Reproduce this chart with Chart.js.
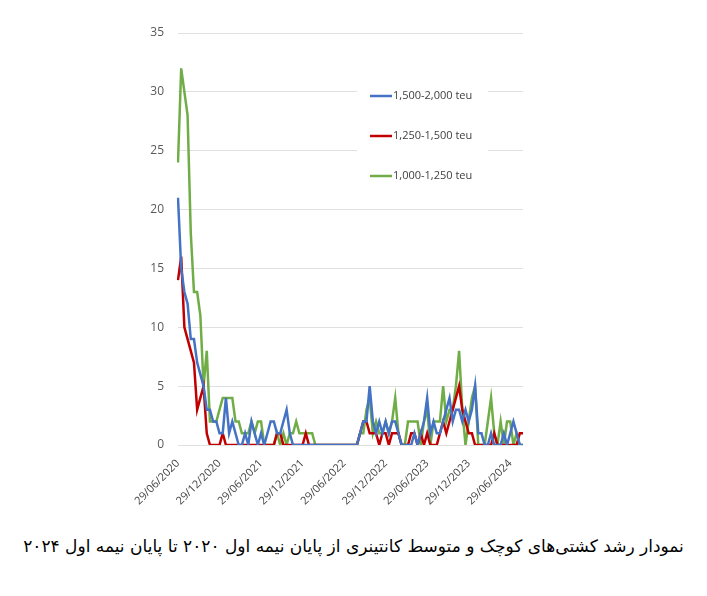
<!DOCTYPE html>
<html>
<head>
<meta charset="utf-8">
<script src="https://cdn.jsdelivr.net/npm/chart.js@4.4.1/dist/chart.umd.min.js"></script>
<style>
  body { margin: 0; background: #fff; width: 707px; height: 596px; position: relative; overflow: hidden; }
  #wrap { position: absolute; left: 0; top: 0; width: 560px; height: 515px; }
  #caption { position: absolute; left: 0; top: 536px; width: 707px; text-align: center; direction: rtl;
             white-space: nowrap; font-family: "DejaVu Sans"; font-size: 17px; color: #000; }
</style>
</head>
<body>
<div id="wrap"><canvas id="myChart"></canvas></div>
<div id="caption">نمودار رشد کشتی‌های کوچک و متوسط کانتینری از پایان نیمه اول ۲۰۲۰ تا پایان نیمه اول ۲۰۲۴</div>
<script>
// x tick labels, one every 13 points (biweekly data)
const tickLabels = ['29/06/2020', '29/12/2020', '29/06/2021', '29/12/2021', '29/06/2022',
                    '29/12/2022', '29/06/2023', '29/12/2023', '29/06/2024'];

const seriesNames = ['1,500-2,000 teu', '1,250-1,500 teu', '1,000-1,250 teu'];

const teu1500 = [
  21, 15, 13, 12, 9, 9, 7, 6, 5, 3,
  3, 2, 2, 1, 1, 4, 1, 2, 1, 0,
  0, 1, 0, 2, 1, 0, 1, 0, 1, 2,
  2, 1, 1, 2, 3, 1, 0, 0, 0, 0,
  0, 0, 0, 0, 0, 0, 0, 0, 0, 0,
  0, 0, 0, 0, 0, 0,
  0, 1, 2, 2, 5, 2, 1, 2, 1, 2,
  1, 2, 2, 1, 0, 0, 0, 0, 1, 0,
  1, 2, 4, 1, 2, 1, 1, 2, 3, 4,
  2, 3, 3, 2, 3, 2, 3, 5, 1, 1,
  0, 0, 1, 0, 0, 0, 1, 0, 1, 2,
  1, 0, 0
];

const teu1250 = [
  14, 16, 10, 9, 8, 7, 3, 4, 5, 1,
  0, 0, 0, 0, 1, 0, 0, 0, 0, 0,
  0, 0, 0, 0, 0, 0, 0, 0, 0, 0,
  0, 1, 1, 0, 0, 0, 0, 0, 0, 0,
  1, 0, 0, 0, 0, 0, 0, 0, 0, 0,
  0, 0, 0, 0, 0, 0,
  0, 1, 2, 2, 1, 1, 1, 0, 1, 1,
  0, 1, 1, 1, 0, 0, 0, 1, 1, 0,
  1, 0, 1, 0, 0, 0, 1, 2, 1, 2,
  3, 4, 5, 3, 2, 1, 1, 0, 0, 0,
  0, 0, 0, 1, 0, 0, 0, 0, 0, 0,
  0, 1, 1
];

const teu1000 = [
  24, 32, 30, 28, 18, 13, 13, 11, 5, 8,
  2, 2, 2, 3, 4, 4, 4, 4, 2, 2,
  1, 1, 1, 2, 1, 2, 2, 0, 0, 0,
  0, 1, 0, 1, 0, 1, 1, 2, 1, 1,
  1, 1, 1, 0, 0, 0, 0, 0, 0, 0,
  0, 0, 0, 0, 0, 0,
  0, 1, 1, 3, 4, 1, 2, 1, 1, 2,
  1, 2, 4, 1, 0, 0, 2, 2, 2, 2,
  0, 2, 3, 0, 2, 2, 2, 5, 2, 3,
  3, 5, 8, 3, 0, 2, 4, 5, 0, 0,
  0, 2, 4, 1, 0, 2, 0, 2, 2, 0,
  1, 0, 0
];

const colors = ['#4472C4', '#C00000', '#70AD47'];

// biweekly dates from 29/06/2020
const categories = [];
for (let i = 0; i < teu1500.length; i++) {
  const d = new Date(2020, 5, 29 + 14 * i);
  categories.push(d.toLocaleDateString('en-GB'));
}

// legend drawn inside the plot, like the original
const innerLegend = {
  id: 'innerLegend',
  afterDraw(chart) {
    const ctx = chart.ctx;
    ctx.save();
    ctx.fillStyle = '#fff';
    ctx.fillRect(357, 80, 131, 112);
    ctx.font = '11px "Open Sans"';
    ctx.textBaseline = 'middle';
    chart.data.datasets.forEach((ds, i) => {
      const y = 96 + i * 40;
      ctx.strokeStyle = ds.borderColor;
      ctx.lineWidth = 2.5;
      ctx.beginPath();
      ctx.moveTo(370, y);
      ctx.lineTo(392, y);
      ctx.stroke();
      ctx.fillStyle = '#404040';
      ctx.fillText(ds.label, 393, y);
    });
    ctx.restore();
  }
};

const ctx = document.getElementById('myChart').getContext('2d');

const myChart = new Chart(ctx, {
  type: 'line',
  data: {
    labels: categories,
    datasets: [teu1500, teu1250, teu1000].map((vals, i) => ({
      label: seriesNames[i],
      data: vals,
      borderColor: colors[i],
      backgroundColor: colors[i],
      borderWidth: 2.5,
      pointRadius: 0,
      tension: 0
    }))
  },
  options: {
    responsive: true,
    maintainAspectRatio: false,
    animation: false,
    layout: { padding: { top: 33, right: 37, bottom: 0, left: 0 } },
    plugins: {
      legend: { display: false },
      tooltip: { enabled: false }
    },
    scales: {
      x: {
        type: 'category',
        grid: { display: false },
        border: { display: false },
        afterFit: (s) => { s.height = 70; },
        ticks: {
          autoSkip: false,
          minRotation: 45,
          maxRotation: 45,
          padding: 4,
          color: '#404040',
          font: { family: '"Open Sans"', size: 11 },
          callback: (v, i) => (i % 13 === 0 ? tickLabels[i / 13] : null)
        }
      },
      y: {
        min: 0,
        max: 35,
        afterFit: (s) => { s.width = 178; },
        grid: { color: '#e0e0e0', lineWidth: 1, drawTicks: false },
        border: { display: false },
        ticks: {
          stepSize: 5,
          padding: 14,
          color: '#595959',
          font: { family: '"Open Sans"', size: 12 }
        }
      }
    }
  },
  plugins: [innerLegend]
});
</script>
</body>
</html>
